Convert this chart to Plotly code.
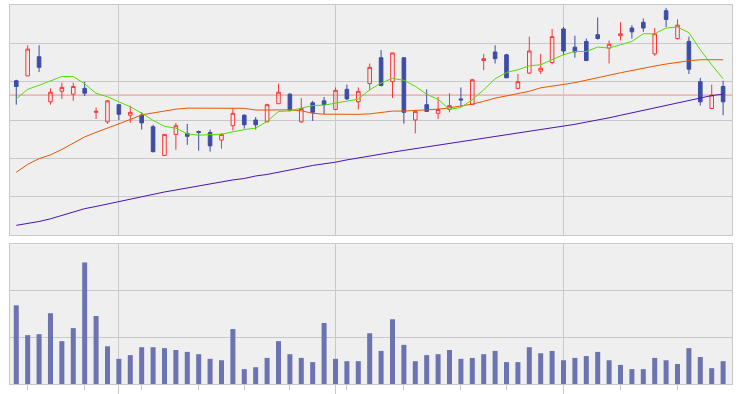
import plotly.graph_objects as go

# ---- data (trading-day index, prices, moving averages, volume) ----
days = list(range(63))
month_starts = [9, 28, 48]
week_starts = [1, 6, 11, 16, 20, 24, 29, 34, 39, 43, 53, 58]

open_ = [1161, 1166, 1186, 1139, 1150, 1147, 1153, 1128, 1118, 1136,
         1125, 1125, 1113, 1083, 1105, 1106, 1108, 1107, 1099, 1114,
         1125, 1120, 1118, 1137, 1147, 1118, 1138, 1140, 1131, 1152,
         1139, 1158, 1185, 1160, 1185, 1120, 1136, 1127, 1131, 1142,
         1136, 1182, 1191, 1188, 1153, 1169, 1171, 1180, 1215, 1196,
         1202, 1209, 1195, 1208, 1216, 1222, 1189, 1234, 1205, 1202,
         1160, 1132, 1155]
high = [1162, 1198, 1198, 1153, 1159, 1159, 1160, 1133, 1141, 1136,
        1135, 1128, 1115, 1105, 1117, 1116, 1109, 1110, 1106, 1132,
        1126, 1123, 1137, 1158, 1148, 1143, 1140, 1144, 1154, 1157,
        1154, 1179, 1193, 1190, 1185, 1129, 1152, 1144, 1148, 1154,
        1163, 1189, 1198, 1189, 1168, 1207, 1189, 1215, 1217, 1208,
        1205, 1227, 1203, 1222, 1219, 1226, 1216, 1237, 1225, 1207,
        1164, 1157, 1161]
low = [1136, 1166, 1170, 1136, 1142, 1140, 1145, 1121, 1116, 1120,
       1117, 1110, 1086, 1083, 1089, 1094, 1088, 1087, 1090, 1109,
       1111, 1110, 1118, 1137, 1129, 1117, 1119, 1126, 1131, 1141,
       1131, 1151, 1155, 1143, 1116, 1106, 1129, 1121, 1128, 1134,
       1136, 1172, 1179, 1164, 1152, 1168, 1168, 1178, 1188, 1185,
       1182, 1204, 1179, 1203, 1205, 1212, 1187, 1217, 1204, 1168,
       1135, 1132, 1125]
close = [1155, 1194, 1175, 1149, 1154, 1155, 1148, 1129, 1140, 1126,
         1128, 1117, 1087, 1105, 1114, 1103, 1107, 1093, 1105, 1127,
         1115, 1115, 1136, 1149, 1130, 1132, 1128, 1136, 1151, 1142,
         1150, 1175, 1156, 1190, 1128, 1129, 1129, 1131, 1135, 1141,
         1162, 1184, 1184, 1164, 1160, 1192, 1174, 1207, 1192, 1191,
         1182, 1205, 1199, 1210, 1212, 1216, 1210, 1225, 1219, 1173,
         1139, 1146, 1139]

ma5 = [1142.1, 1152.0, 1156.2, 1160.7, 1165.4, 1165.4, 1157.8, 1147.9, 1144.2, 1139.0,
       1133.8, 1127.2, 1119.6, 1113.4, 1111.5, 1105.5, 1104.2, 1104.7, 1105.2, 1107.6,
       1110.0, 1111.5, 1118.6, 1128.8, 1129.6, 1132.4, 1135.1, 1135.5, 1137.6, 1140.3,
       1141.8, 1151.5, 1158.5, 1163.5, 1161.4, 1155.2, 1146.8, 1141.6, 1131.1, 1133.2,
       1141.1, 1151.5, 1163.0, 1169.6, 1172.4, 1176.6, 1177.6, 1182.9, 1188.1, 1191.5,
       1191.5, 1196.1, 1195.1, 1198.5, 1202.0, 1210.0, 1210.0, 1216.0, 1217.0, 1211.1,
       1193.3, 1177.6, 1163.0]
ma25 = [1065.5, 1073.7, 1079.7, 1083.6, 1089.3, 1096.1, 1102.4, 1107.1, 1111.5, 1115.7,
        1120.5, 1125.4, 1127.5, 1129.2, 1131.3, 1132.4, 1132.4, 1132.4, 1132.4, 1132.4,
        1132.2, 1130.4, 1130.3, 1130.3, 1130.6, 1129.6, 1127.0, 1126.1, 1126.1, 1125.4,
        1125.9, 1126.4, 1128.0, 1129.3, 1129.3, 1129.8, 1130.1, 1131.3, 1132.7, 1134.3,
        1136.6, 1139.5, 1142.8, 1145.2, 1147.8, 1150.0, 1153.6, 1155.7, 1157.1, 1159.0,
        1161.4, 1163.7, 1166.7, 1169.3, 1171.9, 1174.2, 1176.3, 1178.4, 1180.3, 1181.8,
        1182.9, 1182.9, 1182.9]
ma75 = [1010.1, 1012.0, 1014.1, 1016.9, 1020.2, 1023.7, 1027.5, 1029.8, 1032.4, 1035.0,
        1037.1, 1039.7, 1042.3, 1044.9, 1047.0, 1049.1, 1051.7, 1053.8, 1055.9, 1057.5,
        1059.0, 1061.6, 1063.2, 1065.3, 1067.9, 1070.2, 1072.6, 1074.2, 1076.0, 1078.4,
        1080.5, 1082.9, 1084.6, 1086.4, 1088.3, 1090.1, 1092.0, 1093.7, 1095.6, 1097.2,
        1099.0, 1100.6, 1102.4, 1104.3, 1106.1, 1107.9, 1109.7, 1111.5, 1113.4, 1115.5,
        1117.8, 1119.8, 1122.3, 1124.9, 1127.5, 1129.9, 1132.4, 1134.8, 1137.9, 1140.5,
        1142.8, 1145.5, 1147.0]
volume = [169, 105, 107, 152, 92, 120, 261, 146, 81, 54,
          62, 79, 79, 77, 73, 69, 64, 54, 51, 118,
          32, 36, 56, 92, 64, 56, 47, 131, 54, 49,
          49, 109, 71, 139, 84, 49, 62, 64, 73, 54,
          56, 64, 71, 47, 47, 79, 66, 71, 51, 56,
          60, 69, 51, 41, 32, 32, 56, 51, 43, 77,
          58, 34, 49]
ref_price = 1146

# ---- styles ----
RED = "#ff3333"
BLUE = "#3d4ca6"
VOL = "#6b73b0"
GREEN = "#55dd00"
ORANGE = "#ee5500"
PURPLE = "#4a12b8"
PINK = "#f08c8c"
GRID = "#c8c8c8"
BG = "#efefef"
xr = [-0.55, 62.78]

fig = go.Figure()
fig.add_trace(go.Candlestick(
    x=days, open=open_, high=high, low=low, close=close,
    xaxis="x", yaxis="y", whiskerwidth=0, hoverinfo="skip", showlegend=False,
    increasing=dict(line=dict(color=RED, width=1), fillcolor="rgba(0,0,0,0)"),
    decreasing=dict(line=dict(color=BLUE, width=1), fillcolor=BLUE),
))
for series, col in [(ma75, PURPLE), (ma25, ORANGE), (ma5, GREEN)]:
    fig.add_trace(go.Scatter(x=days, y=series, mode="lines", xaxis="x", yaxis="y",
                             line=dict(color=col, width=1), hoverinfo="skip",
                             showlegend=False))
fig.add_trace(go.Bar(x=days, y=volume, width=0.44, xaxis="x2", yaxis="y2",
                     marker=dict(color=VOL, line=dict(width=0)),
                     hoverinfo="skip", showlegend=False))

fig.add_shape(type="line", xref="x domain", x0=0, x1=1, yref="y",
              y0=ref_price, y1=ref_price, line=dict(color=PINK, width=1),
              layer="below")

common_x = dict(range=xr, tickmode="array", tickvals=month_starts,
                showticklabels=False, showgrid=True, gridcolor=GRID, gridwidth=1,
                zeroline=False, showline=True, mirror=True, linecolor=GRID,
                linewidth=1, fixedrange=True)
common_y = dict(showticklabels=False, showgrid=True, gridcolor=GRID,
                gridwidth=1, zeroline=False, showline=True, mirror=True,
                linecolor=GRID, linewidth=1, ticks="", fixedrange=True)

fig.update_layout(
    width=740, height=394,
    margin=dict(l=10, r=8, t=5, b=10, autoexpand=False),
    paper_bgcolor="white", plot_bgcolor=BG,
    hovermode=False, showlegend=False,
    boxgap=0.55, boxgroupgap=0.3,
    xaxis=dict(domain=[0, 1], anchor="y", ticks="",
               rangeslider=dict(visible=False), **common_x),
    yaxis=dict(domain=[0.3931, 1], anchor="x", range=[1000, 1240],
               tickmode="linear", tick0=1000, dtick=40, **common_y),
    xaxis2=dict(domain=[0, 1], anchor="y2", ticks="outside", ticklen=9,
                tickcolor=GRID, tickwidth=1,
                minor=dict(tickmode="array", tickvals=week_starts,
                           ticks="outside", ticklen=5, tickcolor=GRID,
                           tickwidth=1, showgrid=False),
                **common_x),
    yaxis2=dict(domain=[0, 0.3686], anchor="x2", range=[0, 300],
                tickmode="linear", tick0=0, dtick=100, **common_y),
)

fig.write_html("out.html", config={"displayModeBar": False, "staticPlot": True},
               post_script="document.body.style.margin='0';")
